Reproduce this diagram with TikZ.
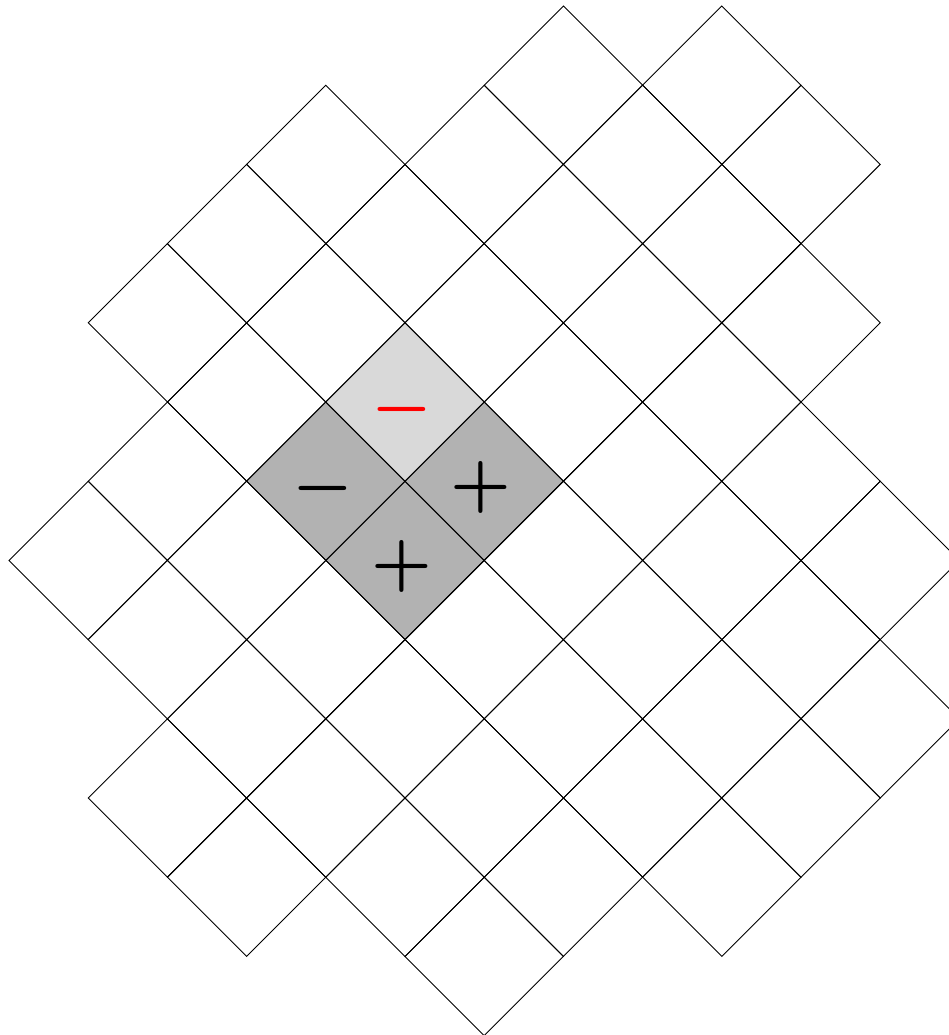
\documentclass[tikz,border=0pt]{standalone}
\begin{document}
\begin{tikzpicture}[x=1pt,y=-1pt,
  cellline/.style={draw=black,line width=0.9pt,line join=miter},
  lightcell/.style={fill=black!15},
  darkcell/.style={fill=black!30},
  sym/.style={inner sep=0pt}]
\useasboundingbox (0,0) rectangle (949,1035);
\clip (0,0) rectangle (949,1035);
\def\u{79.2}
% shaded cells
\fill[lightcell] ({405+\u*0},{402+\u*(0-1)}) -- ++(\u,\u) -- ++(-\u,\u) -- ++(-\u,-\u) -- cycle;
\foreach \i/\j in {-1/1,1/1,0/2}{
  \fill[darkcell] ({405+\u*\i},{402+\u*(\j-1)}) -- ++(\u,\u) -- ++(-\u,\u) -- ++(-\u,-\u) -- cycle;
}
% grid of diamond cells
\foreach \i/\j in {2/-4,4/-4,
  -1/-3,1/-3,3/-3,5/-3,
  -2/-2,0/-2,2/-2,4/-2,
  -3/-1,-1/-1,1/-1,3/-1,5/-1,
  -2/0,0/0,2/0,4/0,
  -3/1,-1/1,1/1,3/1,5/1,
  -4/2,-2/2,0/2,2/2,4/2,6/2,
  -3/3,-1/3,1/3,3/3,5/3,
  -2/4,0/4,2/4,4/4,6/4,
  -3/5,-1/5,1/5,3/5,5/5,
  -2/6,0/6,2/6,4/6,
  1/7}{
  \draw[cellline] ({405+\u*\i},{402+\u*(\j-1)}) -- ++(\u,\u) -- ++(-\u,\u) -- ++(-\u,-\u) -- cycle;
}
% signs
\node[sym,text=red] (redminus) at (401.5,409) {\scalebox{6.8}{\boldmath$-$}};
\node[sym] (minus) at (322.5,488) {\scalebox{6.8}{\boldmath$-$}};
\node[sym] (plusright) at (481,487.5) {\scalebox{6.8}{\boldmath$+$}};
\node[sym] (plusbottom) at (402,566.5) {\scalebox{6.8}{\boldmath$+$}};
\end{tikzpicture}
\end{document}
